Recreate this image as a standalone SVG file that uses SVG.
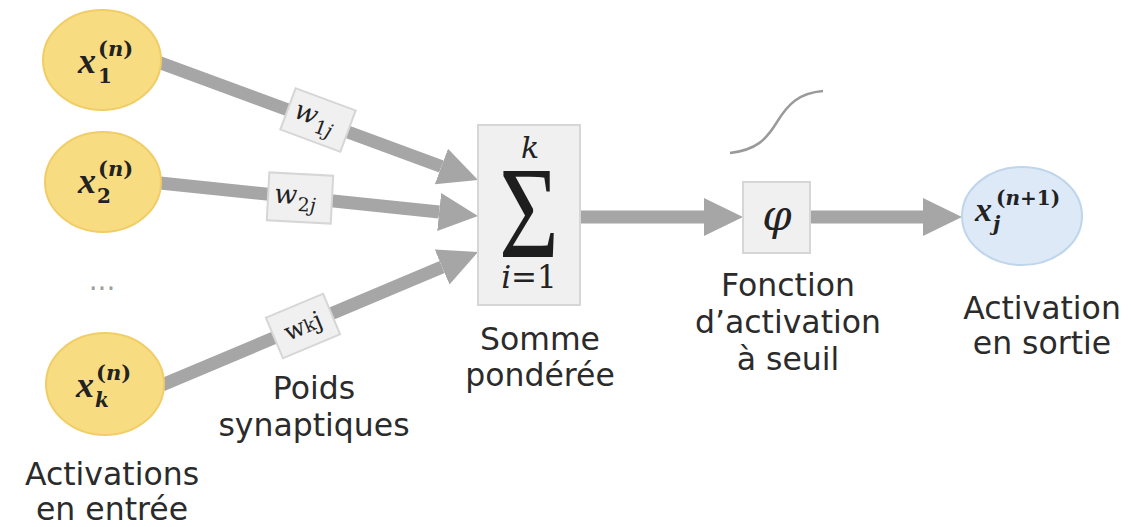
<svg xmlns="http://www.w3.org/2000/svg" width="1131" height="527" viewBox="0 0 1131 527">
  <style>
    .in { fill: #f8dc82; stroke: #f1cd66; stroke-width: 2; }
    .out { fill: #dde9f6; stroke: #bfd5ec; stroke-width: 2; }
    .box { fill: #f0f0f0; stroke: #d6d6d6; stroke-width: 2; }
    .wire { stroke: #a6a6a6; stroke-width: 13; fill: none; marker-end: url(#head); }
    .var { font-family: "Liberation Serif", "DejaVu Serif", serif; font-style: italic; font-weight: bold; fill: #222222; }
    .math { font-family: "DejaVu Serif", "Liberation Serif", serif; font-style: italic; fill: #222222; }
    .up { font-family: "DejaVu Serif", "Liberation Serif", serif; font-style: normal; fill: #222222; }
    .lbl { font-family: "DejaVu Sans", "Liberation Sans", sans-serif; font-size: 31.5px; fill: #2b2b2b; text-anchor: middle; }
  </style>
  <defs>
    <marker id="head" markerUnits="userSpaceOnUse" markerWidth="42" markerHeight="42" viewBox="0 -21 42 42" refX="0" refY="0" orient="auto">
      <path d="M0,-19 L39,0 L0,19 z" fill="#a6a6a6"/>
    </marker>
  </defs>
  <rect width="1131" height="527" fill="#ffffff"/>

  <!-- connectors -->
  <g id="connectors">
    <line class="wire" x1="158" y1="62" x2="441.4" y2="166.5"/>
    <line class="wire" x1="160" y1="183" x2="439.2" y2="212"/>
    <line class="wire" x1="162" y1="385" x2="442.1" y2="267.1"/>
    <line class="wire" x1="580" y1="217" x2="704" y2="217"/>
    <line class="wire" x1="810" y1="217" x2="923" y2="217"/>
  </g>

  <!-- input activations -->
  <g id="input-1">
    <ellipse class="in" cx="102" cy="60" rx="59" ry="50"/>
    <text class="var" x="78" y="73" font-size="36">x</text>
    <text class="up" x="98" y="56" font-size="21" font-weight="bold">(<tspan font-style="italic">n</tspan>)</text>
    <text class="up" x="98" y="83" font-size="20" font-weight="bold">1</text>
  </g>
  <g id="input-2">
    <ellipse class="in" cx="103" cy="182" rx="58" ry="50"/>
    <text class="var" x="78" y="193" font-size="36">x</text>
    <text class="up" x="98" y="176" font-size="21" font-weight="bold">(<tspan font-style="italic">n</tspan>)</text>
    <text class="up" x="97" y="203" font-size="20" font-weight="bold">2</text>
  </g>
  <g id="ellipsis">
    <text x="102" y="290" font-family="DejaVu Sans, sans-serif" font-size="28" fill="#a0a0a0" text-anchor="middle">...</text>
  </g>
  <g id="input-k">
    <ellipse class="in" cx="105" cy="384" rx="59" ry="51"/>
    <text class="var" x="76" y="397" font-size="36">x</text>
    <text class="up" x="96" y="380" font-size="21" font-weight="bold">(<tspan font-style="italic">n</tspan>)</text>
    <text class="math" x="95" y="407" font-size="20" font-weight="bold">k</text>
  </g>
  <g id="label-inputs">
    <text class="lbl" x="112" y="485">Activations</text>
    <text class="lbl" x="112" y="520">en entrée</text>
  </g>

  <!-- synaptic weights -->
  <g id="weight-1" transform="translate(318 120) rotate(20.4)">
    <rect class="box" x="-32" y="-22" width="64" height="44"/>
    <text class="math" x="-25" y="6" font-size="27">w</text>
    <text class="up" x="-1" y="13" font-size="19">1<tspan font-style="italic">j</tspan></text>
  </g>
  <g id="weight-2" transform="translate(300 198) rotate(3)">
    <rect class="box" x="-32" y="-24" width="64" height="48"/>
    <text class="math" x="-26" y="6" font-size="27">w</text>
    <text class="up" x="-2" y="13" font-size="19">2<tspan font-style="italic">j</tspan></text>
  </g>
  <g id="weight-k" transform="translate(303 326) rotate(-22.8)">
    <rect class="box" x="-31" y="-22" width="62" height="44"/>
    <text class="up" x="0" y="8" font-size="24" text-anchor="middle">w<tspan font-size="18">k</tspan>j</text>
  </g>
  <g id="label-weights">
    <text class="lbl" x="314" y="399">Poids</text>
    <text class="lbl" x="314" y="436">synaptiques</text>
  </g>

  <!-- weighted sum -->
  <g id="sum">
    <rect class="box" x="478" y="125" width="102" height="180"/>
    <text class="math" x="530" y="158" font-size="30" text-anchor="middle">k</text>
    <text font-family="Liberation Serif, serif" fill="#1e1e1e" font-size="132" text-anchor="middle" transform="translate(529 257) scale(0.78 1)">Σ</text>
    <text class="math" x="529" y="288" font-size="31" text-anchor="middle">i<tspan font-style="normal">=1</tspan></text>
  </g>
  <g id="label-sum">
    <text class="lbl" x="540" y="350">Somme</text>
    <text class="lbl" x="540" y="386">pondérée</text>
  </g>

  <!-- activation function -->
  <g id="activation">
    <path d="M730,153 C756,150 766,140 777,122 S799,93 823,91" fill="none" stroke="#9a9a9a" stroke-width="2.5"/>
    <rect class="box" x="743" y="182" width="67" height="71"/>
    <text class="math" x="777" y="230" font-size="42" text-anchor="middle">φ</text>
  </g>
  <g id="label-activation">
    <text class="lbl" x="788" y="296">Fonction</text>
    <text class="lbl" x="788" y="333">d’activation</text>
    <text class="lbl" x="788" y="370">à seuil</text>
  </g>

  <!-- output activation -->
  <g id="output">
    <ellipse class="out" cx="1022" cy="216" rx="60" ry="49"/>
    <text class="var" x="975" y="221" font-size="34">x</text>
    <text class="up" x="996" y="205" font-size="20" font-weight="bold">(<tspan font-style="italic">n</tspan>+1)</text>
    <text class="math" x="993" y="231" font-size="20" font-weight="bold">j</text>
  </g>
  <g id="label-output">
    <text class="lbl" x="1042" y="319">Activation</text>
    <text class="lbl" x="1042" y="354">en sortie</text>
  </g>
</svg>
